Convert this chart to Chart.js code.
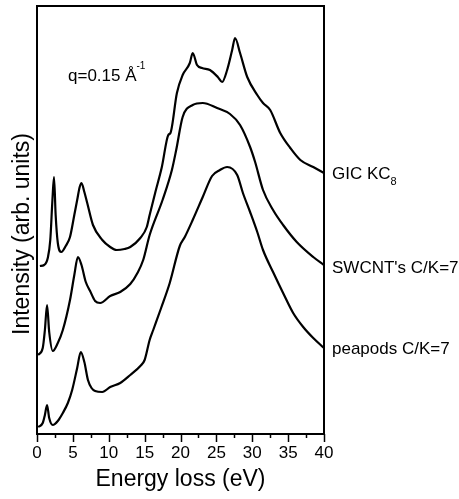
<!DOCTYPE html>
<html>
<head>
<meta charset="utf-8">
<script src="https://cdn.jsdelivr.net/npm/chart.js@4.4.1/dist/chart.umd.min.js"></script>
<style>
    html, body { margin: 0; padding: 0; background: #fff; }
    #eelsChart { display: block; }
</style>
</head>
<body>
<canvas id="eelsChart" width="459" height="499"></canvas>
<script>
// energy loss (eV) / intensity (arb. units)
var gicEnergy = [0.4, 1.0, 1.5, 1.85, 2.15, 2.37, 2.6, 2.9, 3.4, 4.0, 4.6, 5.2, 5.6, 5.95, 6.2, 6.6, 7.0, 7.8, 9.1, 10.2, 11.1, 12.2, 13.0, 14.4, 15.3, 15.7, 16.5, 17.4, 18.3, 18.6, 19.5, 20.3, 21.3, 21.7, 22.3, 23.0, 24.1, 25.2, 25.8, 26.5, 27.2, 27.6, 28.3, 29.3, 30.7, 31.5, 32.5, 33.9, 35.3, 36.7, 38.5, 40.0];
var gicIntensity = [168, 169, 176, 194, 234, 257, 219, 191, 182, 188, 197, 219, 234, 247, 251, 242, 231, 209, 194, 187, 184, 185, 187, 196, 207, 219, 242, 267, 299, 301, 341, 359, 371, 381, 369, 366, 364, 357, 352, 364, 384, 396, 381, 357, 339, 331, 324, 301, 286, 274, 267, 261];

var swcntEnergy = [0.15, 0.8, 1.1, 1.4, 1.7, 2.2, 2.9, 3.6, 4.6, 5.2, 5.7, 6.2, 6.8, 7.4, 8.1, 8.8, 10.2, 11.6, 13.0, 14.0, 14.8, 15.7, 17.5, 18.8, 19.4, 20.3, 21.7, 23.1, 25.1, 26.9, 28.3, 29.7, 30.4, 31.5, 32.9, 34.3, 36.2, 38.5, 40.0];
var swcntIntensity = [79, 86, 104, 129, 102, 83, 91, 104, 134, 159, 177, 169, 152, 143, 133, 131, 138, 142, 150, 161, 174, 199, 234, 264, 284, 317, 329, 331, 326, 320, 309, 287, 272, 244, 224, 209, 192, 177, 169];

var peapodsEnergy = [0.15, 0.8, 1.1, 1.4, 1.7, 2.2, 2.9, 3.6, 4.3, 4.9, 5.6, 6.1, 6.6, 7.1, 7.6, 8.1, 9.1, 10.2, 11.6, 13.0, 14.4, 15.0, 15.7, 16.2, 17.3, 18.5, 19.9, 20.6, 21.7, 23.1, 24.4, 25.5, 26.5, 27.9, 28.7, 29.7, 30.7, 31.5, 32.9, 34.3, 35.7, 37.1, 38.5, 40.0];
var peapodsIntensity = [7, 11, 19, 29, 16, 9, 13, 21, 31, 44, 66, 82, 72, 54, 46, 43, 42, 47, 51, 59, 68, 74, 94, 104, 126, 151, 188, 197, 214, 237, 258, 264, 267, 259, 241, 222, 202, 184, 162, 141, 121, 107, 96, 86];

var seriesNames = ["GIC KC8", "SWCNT's C/K=7", "peapods C/K=7"];
var xTicks = [0, 5, 10, 15, 20, 25, 30, 35, 40];

var FONT = "'Liberation Sans', Arial, Helvetica, sans-serif";

var pageObj = {
    toPoints: function (xs, ys) {
        return xs.map(function (x, i) { return {x: x, y: ys[i]}; });
    },
    lineSet: function (label, xs, ys) {
        return {
            label: label,
            data: pageObj.toPoints(xs, ys),
            borderColor: "#000",
            borderWidth: 2.2,
            pointRadius: 0,
            fill: false,
            cubicInterpolationMode: "monotone"
        };
    }
};

// frame, minor/major ticks, curve labels and q annotation
var decorPlugin = {
    id: "decor",
    afterDraw: function (chart) {
        var ctx = chart.ctx;
        var area = chart.chartArea;
        var xs = chart.scales.x;
        var ys = chart.scales.y;
        ctx.save();

        ctx.strokeStyle = "#000";
        ctx.lineWidth = 2;
        ctx.strokeRect(area.left, area.top, area.right - area.left, area.bottom - area.top);

        // ticks every 2.5 eV, pointing out of the box
        ctx.lineWidth = 1.5;
        for (var v = 0; v <= 40; v += 2.5) {
            var px = Math.round(xs.getPixelForValue(v)) + 0.5;
            var len = (v % 5 === 0) ? 8 : 4;
            ctx.beginPath();
            ctx.moveTo(px, area.bottom);
            ctx.lineTo(px, area.bottom + len);
            ctx.stroke();
        }

        // y title
        ctx.fillStyle = "#000";
        ctx.font = "23px " + FONT;
        ctx.textAlign = "center";
        ctx.textBaseline = "alphabetic";
        ctx.translate(29, 234);
        ctx.rotate(-Math.PI / 2);
        ctx.fillText("Intensity (arb. units)", 0, 0);
        ctx.setTransform(1, 0, 0, 1, 0, 0);

        // labels at the right end of each curve
        var lx = area.right + 8;
        ctx.font = "17px " + FONT;
        ctx.textAlign = "left";
        ctx.textBaseline = "middle";
        var gicY = ys.getPixelForValue(gicIntensity[gicIntensity.length - 1]);
        var main = "GIC KC";
        ctx.fillText(main, lx, gicY + 1);
        var w = ctx.measureText(main).width;
        ctx.font = "11px " + FONT;
        ctx.fillText("8", lx + w, gicY + 9);
        ctx.font = "17px " + FONT;
        ctx.fillText(seriesNames[1], lx, ys.getPixelForValue(swcntIntensity[swcntIntensity.length - 1]) + 3);
        ctx.fillText(seriesNames[2], lx, ys.getPixelForValue(peapodsIntensity[peapodsIntensity.length - 1]) + 1);

        // momentum transfer
        var qText = "q=0.15 \u00c5";
        ctx.fillText(qText, 68, 76);
        var qw = ctx.measureText(qText).width;
        ctx.font = "10px " + FONT;
        ctx.fillText("-1", 68 + qw, 66);

        ctx.restore();
    }
};

pageObj.chartView = function () {
    var config = {
        type: "line",
        data: {
            datasets: [
                pageObj.lineSet(seriesNames[0], gicEnergy, gicIntensity),
                pageObj.lineSet(seriesNames[1], swcntEnergy, swcntIntensity),
                pageObj.lineSet(seriesNames[2], peapodsEnergy, peapodsIntensity)
            ]
        },
        plugins: [decorPlugin],
        options: {
            responsive: false,
            animation: false,
            layout: {
                padding: {left: 37, right: 135, top: 6, bottom: 0}
            },
            plugins: {
                legend: {display: false},
                tooltip: {enabled: false}
            },
            scales: {
                x: {
                    type: "linear",
                    min: 0,
                    max: 40,
                    grid: {display: false},
                    border: {display: false},
                    afterBuildTicks: function (scale) {
                        scale.ticks = xTicks.map(function (v) { return {value: v}; });
                    },
                    // fixed axis band so the plot box ends at the same place as the figure
                    afterFit: function (scale) {
                        scale.height = 65;
                    },
                    ticks: {
                        color: "#000",
                        padding: 1,
                        maxRotation: 0,
                        font: {family: FONT, size: 17}
                    },
                    title: {
                        display: true,
                        text: "Energy loss (eV)",
                        color: "#000",
                        padding: {top: 3, bottom: 6},
                        font: {family: FONT, size: 23}
                    }
                },
                y: {
                    type: "linear",
                    min: 0,
                    max: 428,
                    display: false
                }
            }
        }
    };

    pageObj.chart = new Chart(document.getElementById("eelsChart"), config);
};

pageObj.chartView();
</script>
</body>
</html>
